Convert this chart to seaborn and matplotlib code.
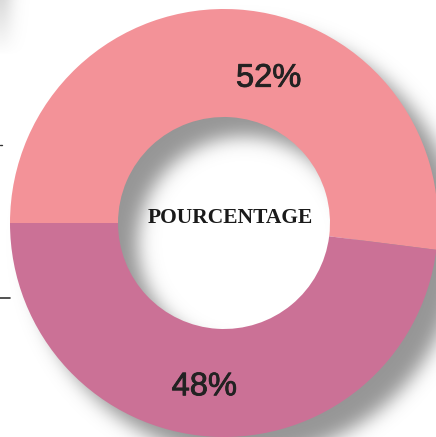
import math
import numpy as np
import matplotlib
matplotlib.use("Agg")
import matplotlib.pyplot as plt
import matplotlib.patheffects as pe
import seaborn as sns

# ---- data ----
categories = ["Catégorie A", "Catégorie B"]
values = [52, 48]
colors = ["#F39298", "#CB7196"]
center_label = "POURCENTAGE"

sns.set_theme(style="white")
plt.rcParams["font.family"] = ["Liberation Sans", "DejaVu Sans"]

W, H = 436, 437
fig = plt.figure(figsize=(W / 100, H / 100), dpi=100)
fig.patch.set_facecolor("white")
ax = fig.add_axes([0, 0, 1, 1])
ax.set_xlim(0, W)
ax.set_ylim(-H, 0)
ax.set_aspect("equal")
ax.axis("off")

cx, cy = 224, 223          # centre in pixel space (y down)
R_out, R_in = 214, 106

# ---- soft drop shadow (blurred annulus, offset to lower right) ----
yy, xx = np.mgrid[0:H, 0:W] + 0.5
sx, sy, sig = 20, 20, 9.0
r = np.hypot(xx - (cx + sx), yy - (cy + sy))
erf = np.vectorize(math.erf)
phi = lambda z: 0.5 * (1 + erf(z / math.sqrt(2)))
alpha = phi((r - R_in) / sig) * phi((R_out - r) / sig)
# faint shadow from an element off the left top corner
alpha2 = 0.35 * np.exp(-(xx / 14.0) ** 2) * np.clip(1 - yy / 55.0, 0, 1)
alpha = np.clip(alpha + alpha2, 0, 1)
img = np.zeros((H, W, 4))
img[..., :3] = 0.59
img[..., 3] = alpha
ax.imshow(img, extent=(0, W, -H, 0), origin="upper", zorder=0,
          interpolation="bilinear")

# ---- donut ----
wedges, texts, autotexts = ax.pie(
    values, colors=colors, startangle=180, counterclock=False,
    center=(cx, -cy), radius=R_out,
    wedgeprops=dict(width=R_out - R_in, linewidth=0, edgecolor="none"),
    autopct=lambda p: f"{p:.0f}%", pctdistance=0.72,
    textprops=dict(fontsize=23.5, color="#222222"),
    frame=True,
)
for w in wedges:
    w.set_zorder(2)
# nudge percentage labels to their place in the reference
shifts = [(35, -9), (-10, -10)]
for t, (dx, dy) in zip(autotexts, shifts):
    x0, y0 = t.get_position()
    t.set_position((x0 + dx, y0 + dy))
    t.set_zorder(3)
    t.set_path_effects([pe.withStroke(linewidth=0.6, foreground="#222222")])

ax.set_xlim(0, W)
ax.set_ylim(-H, 0)
ax.axis("off")

ax.text(cx + 6, -cy + 5, center_label, ha="center", va="center",
        fontsize=15.5, fontweight="bold", color="#1a1a1a",
        family=["Liberation Serif", "DejaVu Serif"], zorder=4)

# small fragments of lines at the left edge
ax.plot([0, 2], [-145, -145], color="#333333", lw=1, zorder=1)
ax.plot([0, 10], [-298, -298], color="#333333", lw=1.2, zorder=1)

fig.savefig("out.png", dpi=100, facecolor="white")
